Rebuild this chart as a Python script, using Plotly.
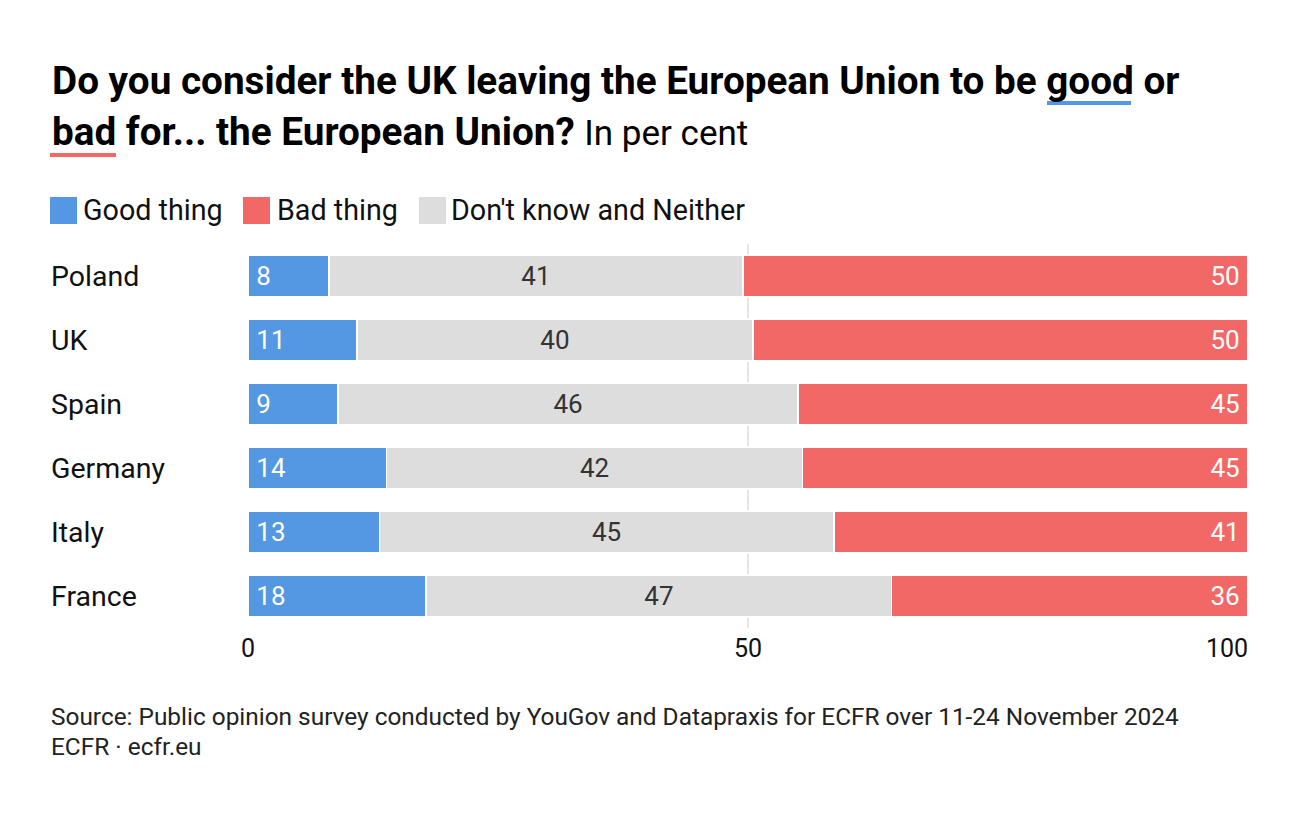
import plotly.graph_objects as go

countries = ["Poland", "UK", "Spain", "Germany", "Italy", "France"]
good = [8, 11, 9, 14, 13, 18]
neither = [41, 40, 46, 42, 45, 47]
bad = [50, 50, 45, 45, 41, 36]
x_ticks = [0, 50, 100]

BLUE = "#5497e2"
RED = "#f26866"
GREY = "#dddddd"
FONT = "Roboto"

OFF = 8  # page offset of the figure in the browser
W, H = 1300, 816
L, R, T, B = 248 - OFF, 52 + OFF, 244 - OFF, 188 + OFF
PW, PH = W - L - R, H - T - B


def px_x(p):
    return (p - OFF - L) / PW


def px_y(p):
    return (H - B - (p - OFF)) / PH


totals = [g + n + b for g, n, b in zip(good, neither, bad)]
good_s = [g / t * 100 for g, t in zip(good, totals)]
neither_s = [n / t * 100 for n, t in zip(neither, totals)]
bad_s = [b / t * 100 for b, t in zip(bad, totals)]

fig = go.Figure()
common = dict(orientation="h", y=countries, marker_line=dict(color="white", width=1.5),
              textposition="inside", cliponaxis=False, hoverinfo="skip")
fig.add_trace(go.Bar(x=good_s, text=[str(v) for v in good], texttemplate="\u2009%{text}",
                     name="Good thing", marker_color=BLUE, insidetextanchor="start",
                     textfont=dict(color="white", size=26, family=FONT), **common))
fig.add_trace(go.Bar(x=neither_s, text=[str(v) for v in neither], name="Don't know and Neither",
                     marker_color=GREY, insidetextanchor="middle",
                     textfont=dict(color="#333333", size=26, family=FONT), **common))
fig.add_trace(go.Bar(x=bad_s, text=[str(v) for v in bad], texttemplate="%{text}\u2009",
                     name="Bad thing", marker_color=RED, insidetextanchor="end",
                     textfont=dict(color="white", size=26, family=FONT), **common))

annotations = []
shapes = []

for c in countries:
    annotations.append(dict(text=c, xref="paper", x=px_x(49), xanchor="left",
                            yref="y", y=c, yanchor="middle", showarrow=False,
                            font=dict(size=28.5, color="#111111", family=FONT)))

# x tick labels (last one right-aligned to the plot edge)
for i, v in enumerate(x_ticks):
    anchor = "right" if i == len(x_ticks) - 1 else "center"
    annotations.append(dict(text=str(v), xref="x", x=v, xanchor=anchor,
                            xshift=2 if anchor == "right" else 0,
                            yref="paper", y=px_y(648), yanchor="middle", showarrow=False,
                            font=dict(size=25, color="#111111", family=FONT)))

annotations.append(dict(
    text="<b>Do you consider the UK leaving the European Union to be good or</b>",
    xref="paper", x=px_x(50), xanchor="left", yref="paper", y=px_y(80), yanchor="middle",
    showarrow=False, font=dict(size=38.7, color="#000000", family=FONT)))
annotations.append(dict(
    text="<b>bad for... the European Union?</b> <span style=\"font-size:35px\">In per cent</span>",
    xref="paper", x=px_x(50), xanchor="left", yref="paper", y=px_y(131), yanchor="middle",
    showarrow=False, font=dict(size=38.7, color="#000000", family=FONT)))

shapes.append(dict(type="rect", xref="paper", yref="paper", x0=px_x(1047), x1=px_x(1131),
                   y0=px_y(105), y1=px_y(101), fillcolor=BLUE, line_width=0))
shapes.append(dict(type="rect", xref="paper", yref="paper", x0=px_x(50), x1=px_x(116),
                   y0=px_y(157), y1=px_y(153), fillcolor=RED, line_width=0))

legend_items = [("Good thing", BLUE, 50, 81), ("Bad thing", RED, 243, 275),
                ("Don't know and Neither", GREY, 419, 449)]
for label, col, sx, tx in legend_items:
    shapes.append(dict(type="rect", xref="paper", yref="paper", x0=px_x(sx), x1=px_x(sx + 27),
                       y0=px_y(224), y1=px_y(197), fillcolor=col, line_width=0))
    annotations.append(dict(text=label, xref="paper", x=px_x(tx), xanchor="left",
                            yref="paper", y=px_y(210), yanchor="middle", showarrow=False,
                            font=dict(size=28.7, color="#111111", family=FONT)))

annotations.append(dict(
    text="Source: Public opinion survey conducted by YouGov and Datapraxis for ECFR over 11-24 November 2024",
    xref="paper", x=px_x(49), xanchor="left", yref="paper", y=px_y(716), yanchor="middle",
    showarrow=False, font=dict(size=24.4, color="#222222", family=FONT)))
annotations.append(dict(
    text="ECFR · ecfr.eu", xref="paper", x=px_x(49), xanchor="left", yref="paper",
    y=px_y(746), yanchor="middle", showarrow=False,
    font=dict(size=24.4, color="#222222", family=FONT)))

fig.update_layout(
    width=W, height=H, barmode="stack", bargap=0.35, showlegend=False,
    paper_bgcolor="white", plot_bgcolor="white",
    margin=dict(l=L, r=R, t=T, b=B, autoexpand=False),
    font=dict(family=FONT, color="#111111"),
    uniformtext=dict(mode="show", minsize=10),
    xaxis=dict(range=[0, 100], tickvals=x_ticks, showticklabels=False,
               showgrid=True, gridcolor="#e4e4e4", gridwidth=1.5, zeroline=False,
               showline=False, ticks="", fixedrange=True),
    yaxis=dict(categoryorder="array", categoryarray=countries[::-1], showticklabels=False,
               showgrid=False, zeroline=False, showline=False, ticks="", fixedrange=True),
    annotations=annotations, shapes=shapes,
)

fig.write_html("out.html")
